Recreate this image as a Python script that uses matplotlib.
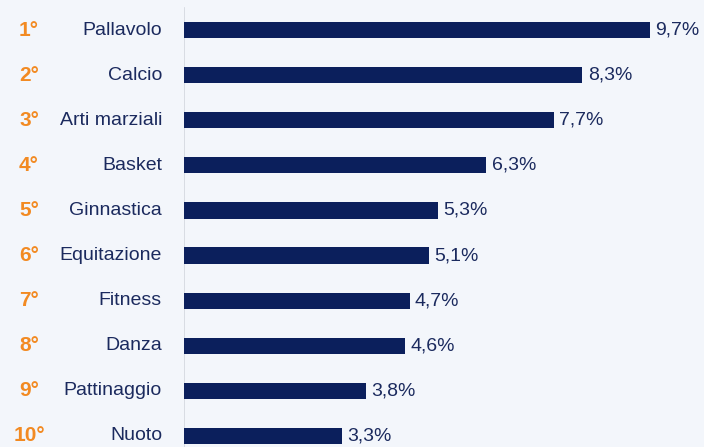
import matplotlib.pyplot as plt

# data
sports = ["Pallavolo", "Calcio", "Arti marziali", "Basket", "Ginnastica",
          "Equitazione", "Fitness", "Danza", "Pattinaggio", "Nuoto"]
values = [9.7, 8.3, 7.7, 6.3, 5.3, 5.1, 4.7, 4.6, 3.8, 3.3]
ranks = [f"{i}°" for i in range(1, 11)]

bg = "#F3F6FB"
navy = "#0B1F5C"
text_navy = "#1B2A5E"
orange = "#F28A22"

plt.rcParams["font.family"] = ["Liberation Sans", "DejaVu Sans"]

fig = plt.figure(figsize=(7.04, 4.47), dpi=100, facecolor=bg)
ax = fig.add_axes([184 / 704, 0, 1 - 184 / 704, 1])
ax.set_facecolor(bg)

pos = list(range(len(sports)))
ax.barh(pos, values, height=0.36, color=navy, left=0)

ax.set_xlim(0, (704 - 184) / 48.0)
ax.set_ylim(9 + 11 / 45.1, -30 / 45.1)

for s in ax.spines.values():
    s.set_visible(False)
ax.set_xticks([])
ax.set_yticks([])

# thin vertical axis line
ax.axvline(0, ymin=0, ymax=1 - 8 / 447, color="#D3D7DF", lw=1.2, zorder=0)

fs = 14
for i, (name, v, r) in enumerate(zip(sports, values, ranks)):
    ax.text(v + 0.11, i, f"{v:.1f}%".replace(".", ","), va="center", ha="left",
            fontsize=fs, color=text_navy)
    ax.text(-22 / 48.0, i, name, va="center", ha="right",
            fontsize=fs, color=text_navy)
    ax.text(-155 / 48.0, i, r, va="center", ha="center",
            fontsize=15, color=orange, fontweight="bold")

fig.savefig("out.png", dpi=100, facecolor=bg)
